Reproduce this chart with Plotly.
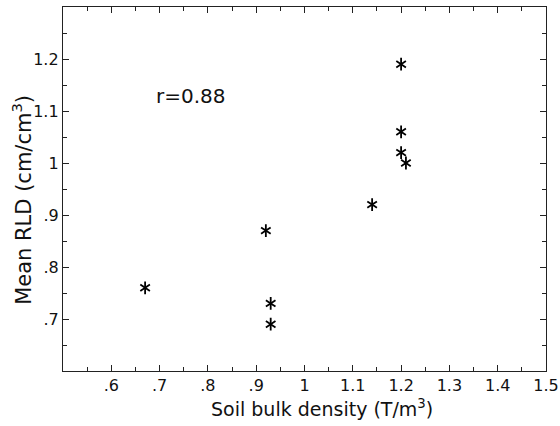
import plotly.graph_objects as go

bulk_density = [0.67, 0.92, 0.93, 0.93, 1.14, 1.20, 1.20, 1.20, 1.21]
mean_rld = [0.76, 0.87, 0.73, 0.69, 0.92, 1.19, 1.06, 1.02, 1.00]

x_tickvals = [0.6, 0.7, 0.8, 0.9, 1.0, 1.1, 1.2, 1.3, 1.4, 1.5]
x_ticktext = [".6", ".7", ".8", ".9", "1", "1.1", "1.2", "1.3", "1.4", "1.5"]
y_tickvals = [0.7, 0.8, 0.9, 1.0, 1.1, 1.2]
y_ticktext = [".7", ".8", ".9", "1", "1.1", "1.2"]

font = "DejaVu Sans, Liberation Sans, sans-serif"

fig = go.Figure()
for sym in ["y-up-open", "y-down-open"]:
    fig.add_trace(go.Scatter(
        x=bulk_density, y=mean_rld, mode="markers",
        marker=dict(symbol=sym, size=8, color="black",
                    line=dict(color="black", width=1.8)),
        showlegend=False, hoverinfo="x+y"))

fig.add_annotation(x=0.765, y=1.128, text="r=0.88", showarrow=False,
                   font=dict(size=20, color="#111", family=font))

# axis titles
fig.add_annotation(xref="paper", yref="paper", x=0.536, y=-0.102,
                   text="Soil bulk density (T/m<sup>3</sup>)", showarrow=False,
                   xanchor="center", yanchor="middle",
                   font=dict(size=19, color="#111", family=font))
fig.add_annotation(xref="paper", yref="paper", x=-0.085, y=0.47,
                   text="Mean RLD (cm/cm<sup>3</sup>)", showarrow=False, textangle=-90,
                   xanchor="center", yanchor="middle",
                   font=dict(size=21, color="#111", family=font))

axis_common = dict(
    showline=True, linecolor="#222", linewidth=1.3, mirror="allticks",
    ticks="inside", ticklen=6, tickwidth=1.2, tickcolor="#222",
    showgrid=False, zeroline=False, automargin=False,
    tickfont=dict(size=16, color="#111", family=font),
    minor=dict(ticks="inside", ticklen=4, tickwidth=1, tickcolor="#222", dtick=0.05),
)

fig.update_xaxes(range=[0.5, 1.5], tickmode="array", tickvals=x_tickvals,
                 ticktext=x_ticktext, **axis_common)
fig.update_xaxes(minor_tick0=0.5)
fig.update_yaxes(range=[0.6, 1.3], tickmode="array", tickvals=y_tickvals,
                 ticktext=y_ticktext, **axis_common)
fig.update_yaxes(minor_tick0=0.6)

fig.update_layout(
    width=560, height=426,
    margin=dict(l=63, r=14, t=7, b=55),
    plot_bgcolor="white", paper_bgcolor="white",
    font=dict(family=font, color="#111"),
)

fig.write_html("out.html", config={"displayModeBar": False},
               post_script="document.body.style.margin='0';")
